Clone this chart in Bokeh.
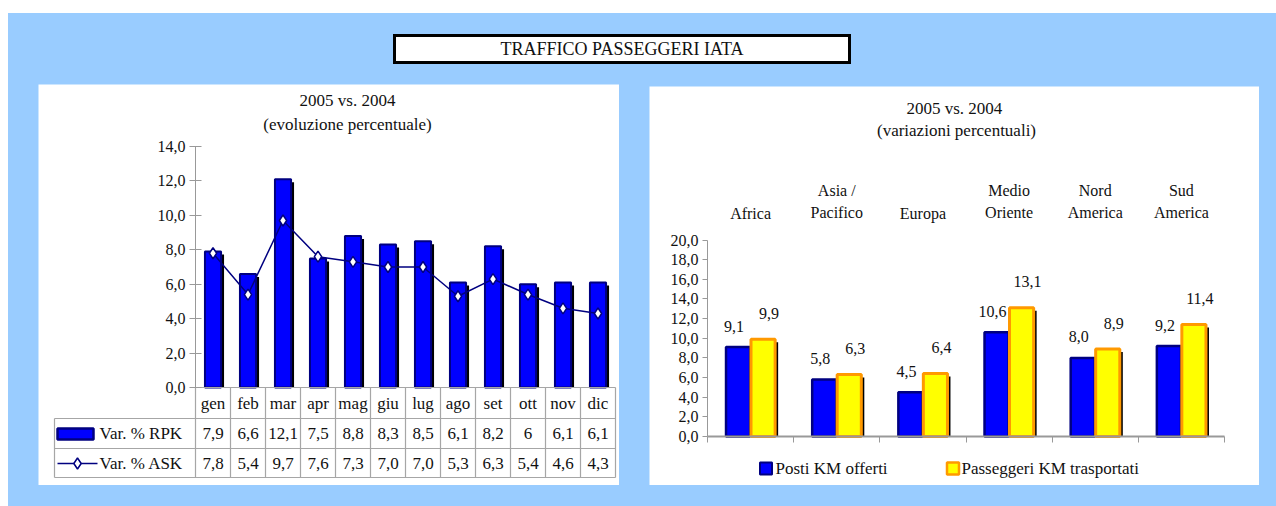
from bokeh.plotting import figure
from bokeh.models import ColumnDataSource, FixedTicker, Spacer, Div, Range1d
from bokeh.layouts import column, row
from bokeh.embed import file_html
from bokeh.resources import INLINE
from bokeh.core.properties import value
from bokeh.transform import dodge

# ---------------- data ----------------
months = ["gen", "feb", "mar", "apr", "mag", "giu", "lug", "ago", "set", "ott", "nov", "dic"]
rpk = [7.9, 6.6, 12.1, 7.5, 8.8, 8.3, 8.5, 6.1, 8.2, 6.0, 6.1, 6.1]
ask = [7.8, 5.4, 9.7, 7.6, 7.3, 7.0, 7.0, 5.3, 6.3, 5.4, 4.6, 4.3]
rpk_table = ["7,9", "6,6", "12,1", "7,5", "8,8", "8,3", "8,5", "6,1", "8,2", "6", "6,1", "6,1"]
ask_table = ["7,8", "5,4", "9,7", "7,6", "7,3", "7,0", "7,0", "5,3", "6,3", "5,4", "4,6", "4,3"]
left_ticks = [0, 2, 4, 6, 8, 10, 12, 14]

regions = ["Africa", "Asia /\nPacifico", "Europa", "Medio\nOriente", "Nord\nAmerica", "Sud\nAmerica"]
posti = [9.1, 5.8, 4.5, 10.6, 8.0, 9.2]
passeggeri = [9.9, 6.3, 6.4, 13.1, 8.9, 11.4]
right_ticks = [0, 2, 4, 6, 8, 10, 12, 14, 16, 18, 20]

FONT = value("Liberation Serif")
BLUE, NAVY, YELLOW, ORANGE = "#0000FF", "#000080", "#FFFF00", "#FF9900"
AXIS_GRAY, TABLE_GRAY = "#999999", "#A6A6A6"


def fmt(v):
    return f"{v:.1f}".replace(".", ",")


# =============== LEFT CHART ===============
LW, LH = 581, 401
L_OX, L_OY = 38, 84          # page origin of the panel
L_AX = 195                   # page x of y axis
L_CW = 35.0                  # category width px
L_Y0, L_Y14 = 387, 146       # page y of 0 and 14
LS = (L_Y0 - L_Y14) / 14.0


def lx(px):
    return (px - L_AX) / L_CW - 0.5


def ly(py):
    return (L_Y0 - py) / LS


pL = figure(width=LW, height=LH, output_backend="svg", toolbar_location=None,
            x_range=Range1d(lx(L_OX), lx(L_OX + LW)),
            y_range=Range1d(ly(L_OY + LH), ly(L_OY)),
            x_axis_location=None, y_axis_location="left", min_border=0)
pL.outline_line_color = None
pL.background_fill_color = "white"
pL.border_fill_color = "white"
pL.grid.visible = False

yax = pL.yaxis[0]
yax.fixed_location = -0.5
yax.bounds = (0, 14)
yax.ticker = FixedTicker(ticks=left_ticks)
yax.major_label_overrides = {t: fmt(t) for t in left_ticks}
yax.minor_tick_line_color = None
yax.major_tick_in = 6
yax.major_tick_out = 6
yax.axis_line_color = AXIS_GRAY
yax.major_tick_line_color = AXIS_GRAY
yax.major_label_text_font = "Liberation Serif"
yax.major_label_text_font_size = "16px"
yax.major_label_text_color = "#111111"
yax.major_label_standoff = 4

idx = list(range(len(months)))
src = ColumnDataSource(dict(x=idx, rpk=rpk, ask=ask,
                            shadow=[v - 3 / LS for v in rpk],
                            months=months, rpk_t=rpk_table, ask_t=ask_table))

# bars with shadow
pL.vbar(x=dodge("x", 3 / L_CW), top="shadow", width=0.46, source=src,
        fill_color="black", line_color=None)
pL.vbar(x="x", top="rpk", width=0.46, source=src,
        fill_color=BLUE, line_color=NAVY, line_width=2)
# line
pL.line(x="x", y="ask", source=src, line_color=NAVY, line_width=1.5)
pL.scatter(x="x", y="ask", source=src, marker="diamond", size=11,
           fill_color="white", line_color=NAVY, line_width=1.5)

# data table grid
rows_y = [387, 418, 448, 477]
tab_left = lx(54)
n = len(months)
hx0 = [-0.5, tab_left, tab_left, tab_left]
hx1 = [n - 0.5] * 4
hy = [ly(v) for v in rows_y]
pL.segment(x0=hx0, y0=hy, x1=hx1, y1=hy, line_color=TABLE_GRAY, line_width=1.2)
vx = [i - 0.5 for i in range(n + 1)] + [tab_left]
vy0 = [0.0] * (n + 1) + [ly(418)]
vy1 = [ly(477)] * (n + 2)
pL.segment(x0=vx, y0=vy0, x1=vx, y1=vy1, line_color=TABLE_GRAY, line_width=1.2)

txt = dict(text_font=FONT, text_font_size=value("17px"), text_color="#111111",
           text_align="center", text_baseline="middle")
pL.text(x="x", y=ly(402.5), text="months", source=src, **txt)
pL.text(x="x", y=ly(433), text="rpk_t", source=src, **txt)
pL.text(x="x", y=ly(462.5), text="ask_t", source=src, **txt)

# legend keys inside the table
pL.rect(x=lx(75), y=ly(433.5), width=36, height=11, width_units="screen",
        height_units="screen", fill_color=BLUE, line_color=NAVY, line_width=2.5)
pL.line(x=[lx(57), lx(97)], y=[ly(463), ly(463)], line_color=NAVY, line_width=1.5)
pL.scatter(x=[lx(77)], y=[ly(463)], marker="diamond", size=11,
           fill_color="white", line_color=NAVY, line_width=1.5)
ltxt = dict(txt, text_align="left")
pL.text(x=[lx(99), lx(99)], y=[ly(433), ly(462.5)],
        text=["Var. % RPK", "Var. % ASK"], **ltxt)

# titles
pL.text(x=[lx(347), lx(347)], y=[ly(100), ly(124)],
        text=["2005 vs. 2004", "(evoluzione percentuale)"], **txt)

# =============== RIGHT CHART ===============
RW, RH = 610, 399
R_OX, R_OY = 649, 86
R_AX = 707
R_CW = 517 / 6.0
R_Y0, R_Y20 = 436, 239.5
RS = (R_Y0 - R_Y20) / 20.0


def rx(px):
    return (px - R_AX) / R_CW - 0.5


def ry(py):
    return (R_Y0 - py) / RS


pR = figure(width=RW, height=RH, output_backend="svg", toolbar_location=None,
            x_range=Range1d(rx(R_OX), rx(R_OX + RW)),
            y_range=Range1d(ry(R_OY + RH), ry(R_OY)),
            x_axis_location="below", y_axis_location="left", min_border=0)
pR.outline_line_color = None
pR.background_fill_color = "white"
pR.border_fill_color = "white"
pR.grid.visible = False

ry_ax = pR.yaxis[0]
ry_ax.fixed_location = -0.5
ry_ax.bounds = (0, 20)
ry_ax.ticker = FixedTicker(ticks=right_ticks)
ry_ax.major_label_overrides = {t: fmt(t) for t in right_ticks}
ry_ax.minor_tick_line_color = None
ry_ax.major_tick_in = 0
ry_ax.major_tick_out = 5
ry_ax.axis_line_color = AXIS_GRAY
ry_ax.major_tick_line_color = AXIS_GRAY
ry_ax.major_label_text_font = "Liberation Serif"
ry_ax.major_label_text_font_size = "16px"
ry_ax.major_label_text_color = "#111111"
ry_ax.major_label_standoff = 4

nr = len(regions)
bticks = [i - 0.5 for i in range(nr + 1)]
rx_ax = pR.xaxis[0]
rx_ax.fixed_location = 0
rx_ax.bounds = (-0.5, nr - 0.5)
rx_ax.ticker = FixedTicker(ticks=bticks)
rx_ax.major_label_overrides = {t: "" for t in bticks}
rx_ax.minor_tick_line_color = None
rx_ax.major_tick_in = 0
rx_ax.major_tick_out = 6
rx_ax.axis_line_color = AXIS_GRAY
rx_ax.axis_line_width = 2
rx_ax.major_tick_line_color = AXIS_GRAY
rx_ax.major_label_text_font_size = "1px"

ridx = list(range(nr))
rsrc = ColumnDataSource(dict(x=ridx, posti=posti, pass_=passeggeri,
                             posti_sh=[v - 3 / RS for v in posti],
                             pass_sh=[v - 3 / RS for v in passeggeri],
                             posti_t=[fmt(v) for v in posti],
                             pass_t=[fmt(v) for v in passeggeri],
                             regions=regions))
BW = 0.28
OFF = 0.145
pR.vbar(x=dodge("x", -OFF + 3 / R_CW), top="posti_sh", width=BW, source=rsrc,
        fill_color="black", line_color=None)
pR.vbar(x=dodge("x", -OFF), top="posti", width=BW, source=rsrc,
        fill_color=BLUE, line_color=NAVY, line_width=2.5)
pR.vbar(x=dodge("x", OFF + 3 / R_CW), top="pass_sh", width=BW, source=rsrc,
        fill_color="black", line_color=None)
pR.vbar(x=dodge("x", OFF), top="pass_", width=BW, source=rsrc,
        fill_color=YELLOW, line_color=ORANGE, line_width=3)

rtxt = dict(text_font=FONT, text_font_size=value("16px"), text_color="#111111",
            text_align="center", text_baseline="middle")
pR.text(x=dodge("x", -OFF), y="posti", text="posti_t", source=rsrc,
        x_offset=-4, y_offset=-21, **rtxt)
pR.text(x=dodge("x", OFF), y="pass_", text="pass_t", source=rsrc,
        x_offset=6, y_offset=-26, **rtxt)

# category labels above the plot
pR.text(x="x", y=ry(221), text="regions", source=rsrc, text_font=FONT,
        text_font_size=value("16px"), text_color="#111111", text_align="center",
        text_baseline="bottom", text_line_height=1.35)

# titles
ttxt = dict(rtxt, text_font_size=value("17px"))
pR.text(x=[rx(956), rx(956)], y=[ry(108), ry(130)],
        text=["2005 vs.  2004", "(variazioni percentuali)"], **ttxt)

# legend
pR.rect(x=rx(765.5), y=ry(468), width=12, height=12, width_units="screen",
        height_units="screen", fill_color=BLUE, line_color=NAVY, line_width=2)
pR.rect(x=rx(952.5), y=ry(468), width=12, height=12, width_units="screen",
        height_units="screen", fill_color=YELLOW, line_color=ORANGE, line_width=2.5)
pR.text(x=[rx(775), rx(961)], y=[ry(468), ry(468)],
        text=["Posti KM offerti", "Passeggeri KM trasportati"],
        **dict(rtxt, text_align="left", text_font_size=value("17px")))

# =============== PAGE LAYOUT ===============
title_div = Div(
    text=('<div style="box-sizing:border-box;width:458px;height:30px;'
          'border:3px solid #000;background:#fff;font-family:\'Liberation Serif\';'
          'font-size:18px;color:#111;text-align:center;line-height:24px;">'
          'TRAFFICO PASSEGGERI IATA</div>'),
    width=458, height=30, margin=0)

blue = column(
    Spacer(width=1268, height=21),
    row(Spacer(width=385, height=30), title_div),
    Spacer(width=1268, height=20),
    row(Spacer(width=30, height=401), pL, Spacer(width=30, height=401),
        column(Spacer(width=610, height=2), pR), Spacer(width=17, height=401)),
    Spacer(width=1268, height=21),
    styles={"background-color": "#99CCFF"},
)
root = column(Spacer(width=1276, height=13), row(Spacer(width=8, height=493), blue))

open("out.html", "w").write(file_html(root, INLINE))
